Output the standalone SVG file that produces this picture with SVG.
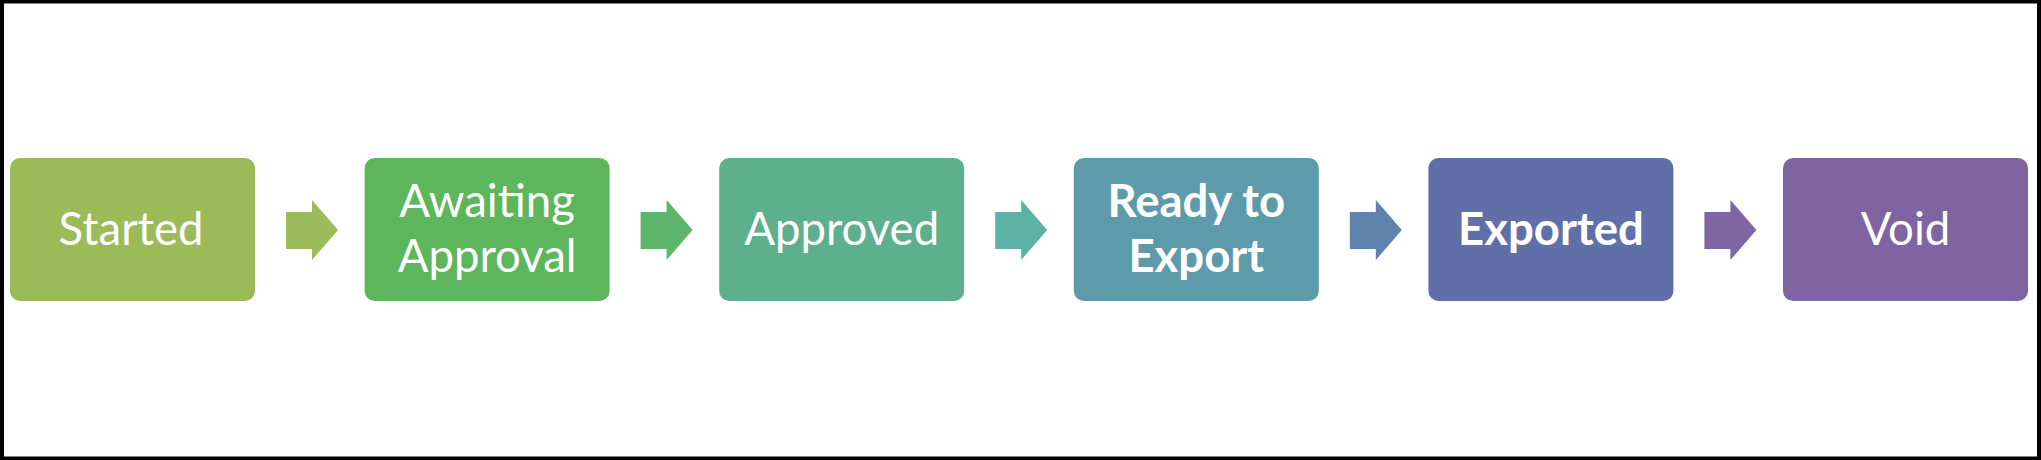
<svg xmlns="http://www.w3.org/2000/svg" width="2041" height="460" viewBox="0 0 2041 460">
<style>
.box{stroke:none}
.lbl{font-family:Lato,"Open Sans","Liberation Sans",sans-serif;font-size:45.5px;fill:#ffffff;text-anchor:middle}
.b{font-weight:bold}
</style>
<rect x="2" y="1.5" width="2037" height="457" fill="#ffffff" stroke="#000000" stroke-width="4"/>
<g id="connectors">
<polygon points="286,212 312,212 312,200 338,230 312,260 312,249 286,249" fill="#9CBC5B"/>
<polygon points="640.6,212 666.6,212 666.6,200 692.6,230 666.6,260 666.6,249 640.6,249" fill="#5CB56B"/>
<polygon points="995.2,212 1021.2,212 1021.2,200 1047.2,230 1021.2,260 1021.2,249 995.2,249" fill="#5CB2A4"/>
<polygon points="1349.8,212 1375.8,212 1375.8,200 1401.8,230 1375.8,260 1375.8,249 1349.8,249" fill="#5F83AD"/>
<polygon points="1704.4,212 1730.4,212 1730.4,200 1756.4,230 1730.4,260 1730.4,249 1704.4,249" fill="#7F65A3"/>
</g>
<g id="started">
<rect class="box" x="10" y="158" width="245" height="143" rx="10" fill="#9BBB59"/>
<text class="lbl" x="131" y="245">Started</text>
</g>
<g id="awaiting">
<rect class="box" x="364.6" y="158" width="245" height="143" rx="10" fill="#5DB55C"/>
<text class="lbl" x="487.1" y="217">Awaiting</text>
<text class="lbl" x="487.1" y="272">Approval</text>
</g>
<g id="approved">
<rect class="box" x="719.2" y="158" width="245" height="143" rx="10" fill="#5CB08D"/>
<text class="lbl" x="841.7" y="245">Approved</text>
</g>
<g id="ready">
<rect class="box" x="1073.8" y="158" width="245" height="143" rx="10" fill="#5E9BAA"/>
<text class="lbl b" x="1196.3" y="217">Ready to</text>
<text class="lbl b" x="1196.3" y="272">Export</text>
</g>
<g id="exported">
<rect class="box" x="1428.4" y="158" width="245" height="143" rx="10" fill="#606FA8"/>
<text class="lbl b" x="1550.9" y="245">Exported</text>
</g>
<g id="void">
<rect class="box" x="1783" y="158" width="245" height="143" rx="10" fill="#8064A1"/>
<text class="lbl" x="1905.5" y="245">Void</text>
</g>
</svg>
